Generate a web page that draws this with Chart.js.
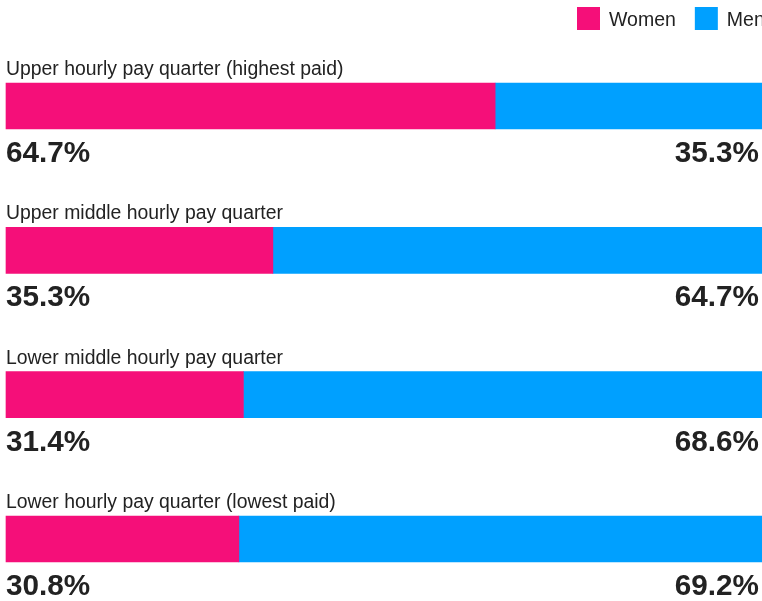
<!DOCTYPE html>
<html>
<head>
<meta charset="utf-8">
<script src="https://cdn.jsdelivr.net/npm/chart.js@4"></script>
<style>
  html, body { margin: 0; padding: 0; background: #fff; overflow: hidden; }
  #wrap { width: 762px; height: 601px; position: relative; }
</style>
</head>
<body>
<div id="wrap"><canvas id="c" width="762" height="601"></canvas></div>
<script>
const categories = [
  "Upper hourly pay quarter (highest paid)",
  "Upper middle hourly pay quarter",
  "Lower middle hourly pay quarter",
  "Lower hourly pay quarter (lowest paid)"
];
const women = [64.7, 35.3, 31.4, 30.8];
const men = [35.3, 64.7, 68.6, 69.2];
const seriesNames = ["Women", "Men"];
const colors = ["#f50f79", "#00a0ff"];

const FONT = "'Liberation Sans', Arial, Helvetica, sans-serif";

const labelPlugin = {
  id: 'labels',
  afterDraw(chart) {
    const ctx = chart.ctx;
    const xs = chart.scales.x;
    const m0 = chart.getDatasetMeta(0);
    ctx.save();
    ctx.fillStyle = '#222';
    ctx.textBaseline = 'alphabetic';
    m0.data.forEach((bar, i) => {
      const top = bar.y - bar.height / 2;
      const bottom = bar.y + bar.height / 2;
      ctx.font = "19.4px " + FONT;
      ctx.textAlign = 'left';
      ctx.fillText(categories[i], xs.getPixelForValue(0), top - 8);
      ctx.font = "bold 29.7px " + FONT;
      ctx.fillText(women[i].toFixed(1) + '%', xs.getPixelForValue(0), bottom + 33);
      ctx.textAlign = 'right';
      ctx.fillText(men[i].toFixed(1) + '%', xs.getPixelForValue(100) - 3, bottom + 33);
    });
    // legend
    ctx.font = "19.5px " + FONT;
    ctx.textAlign = 'left';
    let x = 577;
    chart.data.datasets.forEach((ds, i) => {
      ctx.fillStyle = ds.backgroundColor;
      ctx.fillRect(x, 7, 23, 23);
      ctx.fillStyle = '#222';
      ctx.fillText(ds.label, x + 32, 26);
      x += 32 + ctx.measureText(ds.label).width + 19;
    });
    ctx.restore();
  }
};

new Chart(document.getElementById('c'), {
  type: 'bar',
  data: {
    labels: categories,
    datasets: [
      { label: seriesNames[0], data: women, backgroundColor: colors[0], barThickness: 46, clip: false },
      { label: seriesNames[1], data: men, backgroundColor: colors[1], barThickness: 46, clip: false }
    ]
  },
  options: {
    indexAxis: 'y',
    responsive: false,
    animation: false,
    layout: { padding: { left: 6, right: 0, top: 106, bottom: 62 } },
    plugins: { legend: { display: false }, tooltip: { enabled: false } },
    scales: {
      x: { stacked: true, min: 0, max: 100, display: false },
      y: { stacked: true, display: false, offset: false }
    }
  },
  plugins: [labelPlugin]
});
</script>
</body>
</html>
